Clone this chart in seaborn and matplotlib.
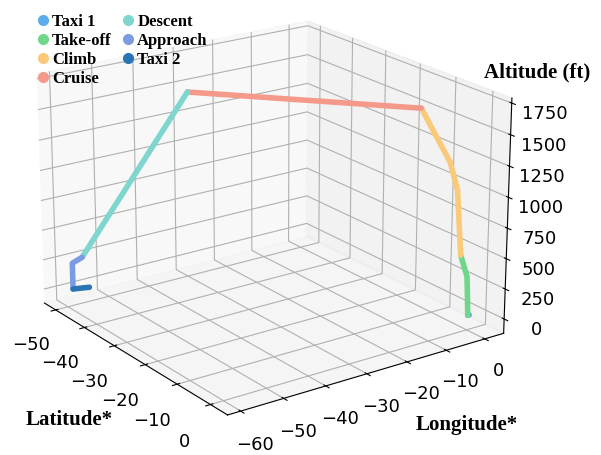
import matplotlib
matplotlib.use("Agg")
import matplotlib.pyplot as plt
from matplotlib.lines import Line2D
import seaborn as sns

# ---- data (normalised lat/lon, altitude in ft) ----
phases = ["Taxi 1", "Take-off", "Climb", "Cruise", "Descent", "Approach", "Taxi 2"]
colors = ["#5DADEC", "#6FD68A", "#FBC97A", "#F59A8B", "#7ED6CF", "#7B9BE3", "#2A74B5"]

taxi1_lat = [0.0, 0.0]
taxi1_lon = [0.6, 0.2]
taxi1_alt = [0, 0]

takeoff_lat = [0.0, 0.0, 0.0, 0.0]
takeoff_lon = [0.2, 0.0, -0.3, -2.1]
takeoff_alt = [0, 150, 330, 520]

climb_lat = [0.0, 0.0, 0.0, 0.0, 0.0, 0.0]
climb_lon = [-2.1, -2.7, -3.4, -5.5, -9.8, -13.1]
climb_alt = [520, 760, 1060, 1300, 1570, 1780]

cruise_lat = [0.0, -30.4]
cruise_lon = [-13.1, -44.4]
cruise_alt = [1780, 1780]

descent_lat = [-30.4, -51.0]
descent_lon = [-44.4, -55.6]
descent_alt = [1780, 250]

approach_lat = [-51.0, -51.0, -51.0]
approach_lon = [-55.6, -58.0, -58.0]
approach_alt = [250, 220, 0]

taxi2_lat = [-51.0, -50.0]
taxi2_lon = [-58.0, -54.7]
taxi2_alt = [0, 0]

lat_ticks = [-50, -40, -30, -20, -10, 0]
lon_ticks = [-60, -50, -40, -30, -20, -10, 0]
alt_ticks = [0, 250, 500, 750, 1000, 1250, 1500, 1750]

segments = [
    (taxi1_lat, taxi1_lon, taxi1_alt),
    (takeoff_lat, takeoff_lon, takeoff_alt),
    (climb_lat, climb_lon, climb_alt),
    (cruise_lat, cruise_lon, cruise_alt),
    (descent_lat, descent_lon, descent_alt),
    (approach_lat, approach_lon, approach_alt),
    (taxi2_lat, taxi2_lon, taxi2_alt),
]

sns.set_palette(colors)

fig = plt.figure(figsize=(6.01, 4.55), dpi=100)
ax = fig.add_axes([-0.06, 0.0385, 1.0, 1.0], projection="3d", focal_length=1.0)

for (la, lo, al), c in zip(segments, colors):
    ax.plot(la, lo, al, color=c, lw=4, solid_capstyle="round", solid_joinstyle="round")

ax.set_xlim(-54, 5)
ax.set_ylim(-63, 5)
ax.set_zlim(-120, 1790)
ax.set_xticks(lat_ticks)
ax.set_yticks(lon_ticks)
ax.set_zticks(alt_ticks)
ax.tick_params(labelsize=13)
ax.tick_params(axis="x", pad=7)
ax.tick_params(axis="z", pad=3.5)
ax.view_init(elev=20, azim=-35.3)
ax.set_box_aspect((4, 4, 2.95), zoom=1.14)

serif = ["Liberation Serif", "DejaVu Serif"]
fig.text(0.115, 0.077, "Latitude*", family=serif, weight="bold", fontsize=15, ha="center", va="center")
fig.text(0.777, 0.066, "Longitude*", family=serif, weight="bold", fontsize=15, ha="center", va="center")
fig.text(0.894, 0.840, "Altitude (ft)", family=serif, weight="bold", fontsize=15, ha="center", va="center")

handles = [Line2D([], [], ls="none", marker="o", ms=7, color=c) for c in colors]
fig.legend(handles, phases, loc="upper left", bbox_to_anchor=(0.035, 1.003), ncol=2,
           frameon=False, handletextpad=0.15, columnspacing=0.6, labelspacing=0.18,
           handlelength=0.8, prop={"family": serif, "weight": "bold", "size": 12})

fig.savefig("out.png", dpi=100)
